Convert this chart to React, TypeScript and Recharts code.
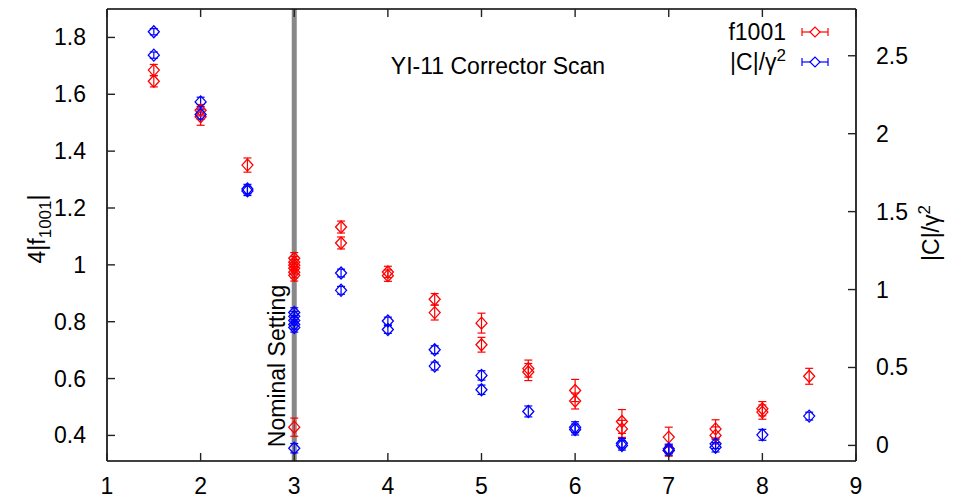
import React from 'react';
import { ScatterChart, Scatter, XAxis, YAxis, ErrorBar, ReferenceLine, Customized } from 'recharts';

const FONT = '"Liberation Sans", Arial, Helvetica, sans-serif';
const FS = 23;

const xTicks = [1, 2, 3, 4, 5, 6, 7, 8, 9];
const leftTicks = [0.4, 0.6, 0.8, 1, 1.2, 1.4, 1.6, 1.8];
const rightTicks = [0, 0.5, 1, 1.5, 2, 2.5];

const f1001X = [1.5, 1.5, 2, 2, 2.5, 3, 3, 3, 3, 3, 3, 3, 3.5, 3.5, 4, 4, 4.5, 4.5, 5, 5, 5.5, 5.5, 6, 6, 6.5, 6.5, 7, 7, 7.5, 7.5, 8, 8, 8.5];
const f1001Y = [1.685, 1.646, 1.544, 1.521, 1.351, 1.023, 1.009, 0.999, 0.988, 0.974, 0.963, 0.429, 1.133, 1.077, 0.975, 0.962, 0.879, 0.832, 0.795, 0.719, 0.635, 0.623, 0.558, 0.521, 0.449, 0.423, 0.394, 0.347, 0.423, 0.4, 0.494, 0.482, 0.608];
const f1001Err = [0.02, 0.02, 0.02, 0.03, 0.025, 0.02, 0.02, 0.02, 0.02, 0.02, 0.02, 0.032, 0.021, 0.021, 0.02, 0.02, 0.02, 0.026, 0.035, 0.026, 0.03, 0.03, 0.039, 0.028, 0.042, 0.03, 0.035, 0.02, 0.032, 0.03, 0.025, 0.025, 0.028];

const cX = [1.5, 1.5, 2, 2, 2.5, 2.5, 3, 3, 3, 3, 3, 3, 3.5, 3.5, 4, 4, 4.5, 4.5, 5, 5, 5.5, 6, 6, 6.5, 6.5, 7, 7, 7.5, 7.5, 8, 8.5];
const cY = [2.654, 2.504, 2.204, 2.123, 1.633, 1.645, 0.853, 0.828, 0.802, 0.776, 0.757, -0.018, 1.106, 0.995, 0.798, 0.744, 0.614, 0.509, 0.449, 0.357, 0.218, 0.117, 0.102, 0.014, 0.0, -0.022, -0.033, 0.01, -0.012, 0.068, 0.188];
const cErr = [0.02, 0.02, 0.03, 0.03, 0.03, 0.03, 0.03, 0.03, 0.03, 0.03, 0.03, 0.03, 0.025, 0.025, 0.025, 0.025, 0.025, 0.025, 0.03, 0.03, 0.035, 0.035, 0.035, 0.03, 0.03, 0.03, 0.03, 0.03, 0.03, 0.035, 0.025];

const f1001Data = f1001X.map((x, i) => ({ x, y: f1001Y[i], e: f1001Err[i] }));
const cData = cX.map((x, i) => ({ x, y: cY[i], e: cErr[i] }));

const RED = '#ff0000';
const BLUE = '#0000ff';

const diamond = (color: string) => (p: any) => {
  const { cx, cy } = p;
  if (cx == null || cy == null) return <g />;
  const w = 5.5, h = 6;
  return (
    <polygon
      points={`${cx - w},${cy} ${cx},${cy - h} ${cx + w},${cy} ${cx},${cy + h}`}
      fill="none"
      stroke={color}
      strokeWidth={1.3}
    />
  );
};

const textStyle = { fontFamily: FONT, fontSize: FS, fill: '#000' };

const BottomTick = (p: any) => (
  <g>
    <line x1={p.x} x2={p.x} y1={p.y} y2={p.y - 8} stroke="#222" strokeWidth={1.4} />
    <text x={p.x} y={p.y + 33} textAnchor="middle" style={textStyle}>{p.payload.value}</text>
  </g>
);
const TopTick = (p: any) => (
  <line x1={p.x} x2={p.x} y1={p.y} y2={p.y + 8} stroke="#222" strokeWidth={1.4} />
);
const LeftTick = (p: any) => (
  <g>
    <line x1={p.x} x2={p.x + 8} y1={p.y} y2={p.y} stroke="#222" strokeWidth={1.4} />
    <text x={p.x - 21} y={p.y + 8} textAnchor="end" style={textStyle}>{p.payload.value}</text>
  </g>
);
const RightTick = (p: any) => (
  <g>
    <line x1={p.x} x2={p.x - 8} y1={p.y} y2={p.y} stroke="#222" strokeWidth={1.4} />
    <text x={p.x + 20} y={p.y + 8} textAnchor="start" style={textStyle}>{p.payload.value}</text>
  </g>
);

const LegendSym = ({ x, y, color }: { x: number; y: number; color: string }) => (
  <g stroke={color} strokeWidth={1.2} fill="none">
    <line x1={x} x2={x + 26} y1={y} y2={y} />
    <line x1={x} x2={x} y1={y - 4} y2={y + 4} />
    <line x1={x + 26} x2={x + 26} y1={y - 4} y2={y + 4} />
    <polygon points={`${x + 8},${y} ${x + 13},${y - 5} ${x + 18},${y} ${x + 13},${y + 5}`} fill="#fff" />
  </g>
);

const Extras = () => (
  <g>
    <text x={498} y={74} textAnchor="middle" style={textStyle}>YI-11 Corrector Scan</text>
    <text transform="translate(45,229) rotate(-90)" textAnchor="middle" style={textStyle}>
      4|f<tspan dy={6} fontSize={17}>1001</tspan><tspan dy={-6}>|</tspan>
    </text>
    <text transform="translate(939,233) rotate(-90)" textAnchor="middle" style={textStyle}>
      |C|/γ<tspan dy={-9} fontSize={17}>2</tspan>
    </text>
    <text x={786} y={40} textAnchor="end" style={textStyle}>f1001</text>
    <LegendSym x={802} y={32} color={RED} />
    <text x={786} y={70} textAnchor="end" style={textStyle}>
      |C|/γ<tspan dy={-9} fontSize={17}>2</tspan>
    </text>
    <LegendSym x={802} y={62} color={BLUE} />
  </g>
);

const NominalLabel = (p: any) => {
  const vb = p.viewBox || {};
  return (
    <text transform={`translate(${vb.x - 9},366) rotate(-90)`} textAnchor="middle" style={textStyle}>
      Nominal Setting
    </text>
  );
};

export default function App() {
  return (
    <div style={{ position: 'absolute', left: 0, top: 0, width: 969, height: 499, background: '#fff' }}>
      <ScatterChart width={969} height={499} margin={{ top: 8, right: 53, bottom: 8, left: 47 }}>
        <XAxis
          xAxisId="bottom"
          type="number"
          dataKey="x"
          domain={[1, 9]}
          ticks={xTicks}
          allowDataOverflow
          height={30}
          tickSize={0}
          tickMargin={0}
          tickLine={false}
          tick={<BottomTick />}
          axisLine={{ stroke: '#000', strokeWidth: 1.6 }}
        />
        <XAxis
          xAxisId="top"
          orientation="top"
          type="number"
          dataKey="x"
          domain={[1, 9]}
          ticks={xTicks}
          allowDataOverflow
          height={1}
          tickSize={0}
          tickMargin={0}
          tickLine={false}
          tick={<TopTick />}
          axisLine={{ stroke: '#000', strokeWidth: 1.6 }}
        />
        <YAxis
          yAxisId="left"
          type="number"
          dataKey="y"
          domain={[0.31, 1.9]}
          ticks={leftTicks}
          allowDataOverflow
          width={60}
          tickSize={0}
          tickMargin={0}
          tickLine={false}
          tick={<LeftTick />}
          axisLine={{ stroke: '#000', strokeWidth: 1.6 }}
        />
        <YAxis
          yAxisId="right"
          orientation="right"
          type="number"
          dataKey="y"
          domain={[-0.1, 2.8]}
          ticks={rightTicks}
          allowDataOverflow
          width={60}
          tickSize={0}
          tickMargin={0}
          tickLine={false}
          tick={<RightTick />}
          axisLine={{ stroke: '#000', strokeWidth: 1.6 }}
        />
        <ReferenceLine
          x={3}
          xAxisId="bottom"
          yAxisId="left"
          stroke="#888"
          strokeWidth={5}
          label={<NominalLabel />}
        />
        <Scatter
          name="f1001"
          data={f1001Data}
          xAxisId="bottom"
          yAxisId="left"
          dataKey="y"
          isAnimationActive={false}
          shape={diamond(RED)}
        >
          <ErrorBar dataKey="e" direction="y" width={4} stroke={RED} strokeWidth={1.2} isAnimationActive={false} />
        </Scatter>
        <Scatter
          name="|C|/γ²"
          data={cData}
          xAxisId="bottom"
          yAxisId="right"
          dataKey="y"
          isAnimationActive={false}
          shape={diamond(BLUE)}
        >
          <ErrorBar dataKey="e" direction="y" width={4} stroke={BLUE} strokeWidth={1.2} isAnimationActive={false} />
        </Scatter>
        <Customized component={Extras} />
      </ScatterChart>
    </div>
  );
}
